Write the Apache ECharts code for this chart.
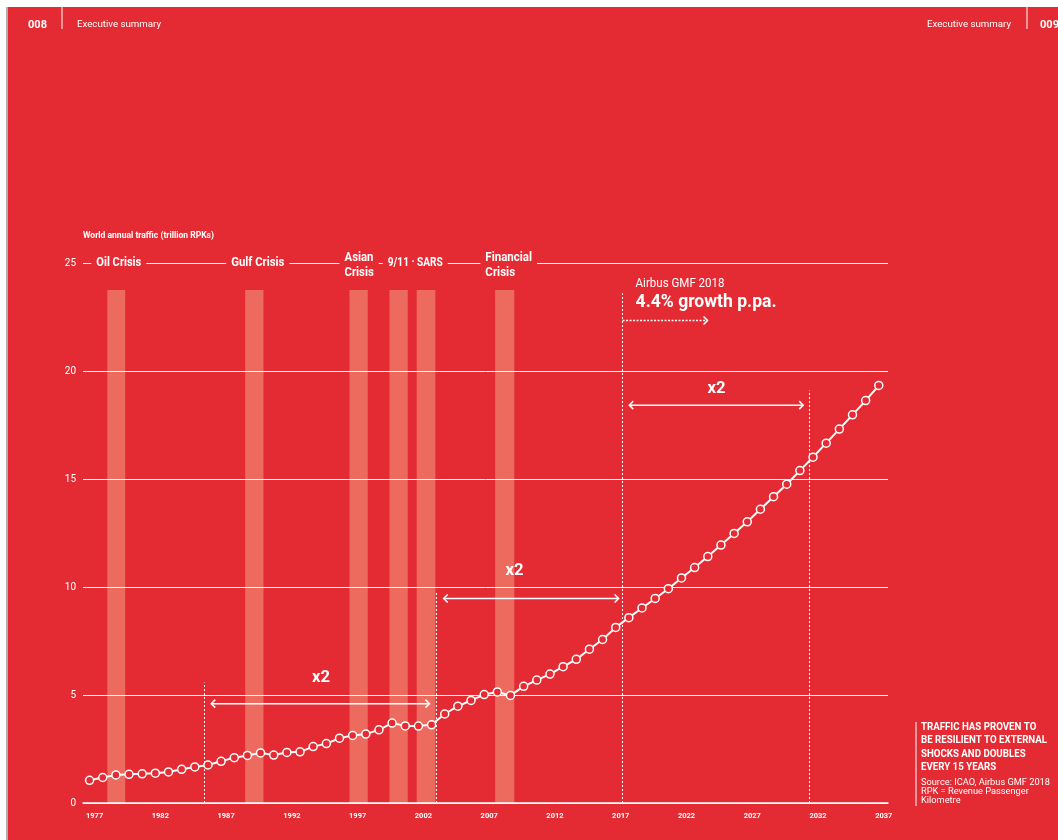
<!DOCTYPE html>
<html><head><meta charset="utf-8">
<script src="https://cdn.jsdelivr.net/npm/echarts@6/dist/echarts.min.js"></script>
<style>html,body{margin:0;padding:0;background:#fff}#c{width:1058px;height:840px}</style>
</head><body><div id="c"></div>
<script>
// ---------- data ----------
const years = [1977,1978,1979,1980,1981,1982,1983,1984,1985,1986,1987,1988,1989,1990,1991,1992,1993,1994,1995,1996,
  1997,1998,1999,2000,2001,2002,2003,2004,2005,2006,2007,2008,2009,2010,2011,2012,2013,2014,2015,2016,
  2017,2018,2019,2020,2021,2022,2023,2024,2025,2026,2027,2028,2029,2030,2031,2032,2033,2034,2035,2036,2037];
const traffic = [1.05,1.18,1.30,1.33,1.35,1.38,1.44,1.56,1.67,1.76,1.93,2.10,2.20,2.32,2.22,2.34,2.37,2.61,2.75,3.00,
  3.13,3.19,3.39,3.70,3.57,3.56,3.62,4.12,4.48,4.75,5.02,5.14,4.98,5.40,5.69,5.97,6.31,6.65,7.12,7.57,
  8.13,8.58,9.03,9.47,9.92,10.42,10.90,11.41,11.94,12.48,13.02,13.60,14.18,14.76,15.39,16.01,16.66,17.31,17.97,18.63,19.33];
const yearTicks = [1977,1982,1987,1992,1997,2002,2007,2012,2017,2022,2027,2032,2037];
const crisisStart = [1978.35,1988.83,1996.76,1999.80,2001.87,2007.83];
const crisisEnd   = [1979.71,1990.22,1998.15,2001.19,2003.29,2009.29];
const crisisTop = 23.75;
const crisisLabels = ['Oil Crisis','Gulf Crisis','Asian\nCrisis','9/11 · SARS','Financial\nCrisis'];
const crisisLabelYear = [1979.22,1989.79,1996.38,2001.76,2007.09];
const crisisLabelAlign = ['center','center','left','center','left'];
const markerYears = [1985.74,2003.33,2017.52,2031.70];
const markerTops = [5.58,9.76,23.70,19.10];
const doublingFrom = [1986.25,2003.92,2018.03];
const doublingTo = [2002.84,2017.22,2031.25];
const doublingLevel = [4.60,9.47,18.42];
const doublingLabelYear = [1994.6,2009.3,2024.67];
const doublingLabelLevel = [5.81,10.73,19.18];
const forecastArrow = {from:2017.52, to:2023.98, level:22.34};

// ---------- style ----------
const RED = '#E42A32';
const BAR = '#EC6A5E';
const F = "Roboto,'Liberation Sans',sans-serif";
const mctx = document.createElement('canvas').getContext('2d');
function fit(text, font, target) {
  mctx.font = font;
  const w = Math.max.apply(null, text.split('\n').map(s => mctx.measureText(s).width));
  return target / w;
}

const chart = echarts.init(document.getElementById('c'));
chart.setOption({
  backgroundColor: RED,
  animation: false,
  grid: {left: 83, right: 170, top: 263, bottom: 37},
  xAxis: {
    type: 'value', min: 1976.5, max: 2037.7, z: 3,
    axisLine: {show: true, lineStyle: {color: '#fff', width: 1.5}},
    axisTick: {show: false}, splitLine: {show: false},
    axisLabel: {customValues: yearTicks, color: '#fff', fontSize: 7.5, fontWeight: 'bold', fontFamily: F,
      margin: 9, padding: [0, 0, 0, 10], formatter: v => String(v)}
  },
  yAxis: {
    type: 'value', min: 0, max: 25, interval: 5, z: 3,
    axisLine: {show: false}, axisTick: {show: false},
    splitLine: {lineStyle: {color: '#fff', width: 1}},
    axisLabel: {color: '#fff', fontSize: 10, fontFamily: F, margin: 7}
  },
  series: [
    {
      type: 'custom', z: 1, silent: true,
      data: crisisStart.map((s, i) => [s, crisisEnd[i], crisisTop]),
      encode: {x: [0, 1], y: 2},
      renderItem: (params, api) => {
        const p1 = api.coord([api.value(0), api.value(2)]);
        const p2 = api.coord([api.value(1), 0]);
        return {type: 'rect', shape: {x: p1[0], y: p1[1], width: p2[0] - p1[0], height: p2[1] - p1[1]},
          style: {fill: BAR}};
      }
    },
    {
      type: 'line', z: 5,
      data: years.map((y, i) => [y, traffic[i]]),
      symbol: 'circle', symbolSize: 8,
      itemStyle: {color: RED, borderColor: '#fff', borderWidth: 1.5},
      lineStyle: {color: '#fff', width: 2},
      markLine: {
        silent: true, symbol: 'none', label: {show: false},
        lineStyle: {color: '#fff', type: [2, 2], width: 1},
        data: markerYears.map((x, i) => [{coord: [x, 0]}, {coord: [x, markerTops[i]]}])
      }
    }
  ]
});

// ---------- annotations anchored through the chart's scales ----------
const px = (x, y) => chart.convertToPixel({gridIndex: 0}, [x, y]);
const els = [];
const W = '#fff';
function txt(x, y, text, font, target, extra) {
  const s = target ? fit(text, font, target) : 1;
  const style = Object.assign({text: text, fill: W, font: font, verticalAlign: 'middle'}, extra || {});
  if (style.padding && s !== 1) style.padding = style.padding.map((p, i) => i % 2 ? p / s : p);
  return {type: 'text', z: 50, x: x, y: y, scaleX: s, style: style};
}
function chevron(x, y, dir) {
  const h = 4;
  return {type: 'polyline', z: 50, shape: {points: [[x - dir * h, y - h], [x, y], [x - dir * h, y + h]]},
    style: {stroke: W, lineWidth: 1.5, fill: null}};
}
// doubling arrows
doublingFrom.forEach((f, i) => {
  const a = px(f, doublingLevel[i]), b = px(doublingTo[i], doublingLevel[i]);
  els.push({type: 'line', z: 50, shape: {x1: a[0], y1: a[1], x2: b[0], y2: b[1]}, style: {stroke: W, lineWidth: 1.5}});
  els.push(chevron(a[0], a[1], -1));
  els.push(chevron(b[0], b[1], 1));
  const l = px(doublingLabelYear[i], doublingLabelLevel[i]);
  els.push(txt(l[0], l[1], 'x2', 'bold 17px ' + F, 18, {align: 'center'}));
});
// forecast dotted arrow
{
  const a = px(forecastArrow.from, forecastArrow.level), b = px(forecastArrow.to, forecastArrow.level);
  els.push({type: 'line', z: 50, shape: {x1: a[0], y1: a[1], x2: b[0], y2: b[1]}, style: {stroke: W, lineWidth: 1.5, lineDash: [2, 1.5]}});
  els.push(chevron(b[0], b[1], 1));
  const t = px(forecastArrow.from, 25);
  els.push(txt(t[0] + 13, 284, 'Airbus GMF 2018', '12.5px ' + F, 89));
  els.push(txt(t[0] + 13, 302, '4.4% growth p.pa.', 'bold 19px ' + F, 141));
}
// axis title
{
  const o = px(1976.5, 25);
  els.push(txt(o[0], o[1] - 27, 'World annual traffic (trillion RPKs)', 'bold 9.5px ' + F, 131));
}
// crisis labels breaking the top gridline
const y25 = px(1977, 25)[1];
const crisisTargets = [45, 53.3, 29.3, 55, 46.7];
crisisLabels.forEach((t, i) => {
  const p = px(crisisLabelYear[i], 25);
  const left = crisisLabelAlign[i] === 'left';
  const font = 'bold 12px ' + F;
  els.push(txt(left ? p[0] - 5 : p[0], y25 + (t.indexOf('\n') >= 0 ? 2.5 : 0), t, font, crisisTargets[i],
    {align: crisisLabelAlign[i], lineHeight: 14.4, backgroundColor: RED, padding: [0, 5]}));
});
// page header and frame
els.push({type: 'rect', z: 60, shape: {x: 0, y: 0, width: 1058, height: 7}, style: {fill: '#fff'}});
els.push({type: 'rect', z: 60, shape: {x: 0, y: 0, width: 6, height: 840}, style: {fill: '#fff'}});
els.push({type: 'rect', z: 60, shape: {x: 6, y: 7, width: 2, height: 833}, style: {fill: '#b0b0b0'}});
els.push(txt(28, 25, '008', 'bold 10px ' + F, 19));
els.push({type: 'line', z: 50, shape: {x1: 62, y1: 7, x2: 62, y2: 29}, style: {stroke: W, lineWidth: 1}});
els.push(txt(77, 25, 'Executive summary', '9px ' + F, 84));
els.push(txt(1011, 25, 'Executive summary', '9px ' + F, 84, {align: 'right'}));
els.push({type: 'line', z: 50, shape: {x1: 1027, y1: 7, x2: 1027, y2: 29}, style: {stroke: W, lineWidth: 1}});
els.push(txt(1040, 25, '009', 'bold 10px ' + F, 19));
// side note
els.push({type: 'line', z: 50, shape: {x1: 916, y1: 722, x2: 916, y2: 806}, style: {stroke: W, lineWidth: 1}});
els.push(txt(921, 720.5, 'TRAFFIC HAS PROVEN TO\nBE RESILIENT TO EXTERNAL\nSHOCKS AND DOUBLES\nEVERY 15 YEARS',
  'bold 10.5px ' + F, 126, {lineHeight: 13.5, verticalAlign: 'top'}));
els.push(txt(921, 778, 'Source: ICAO, Airbus GMF 2018\nRPK = Revenue Passenger\nKilometre',
  '8.5px ' + F, 129, {lineHeight: 9, verticalAlign: 'top'}));

chart.setOption({graphic: {elements: els}});
</script></body></html>
